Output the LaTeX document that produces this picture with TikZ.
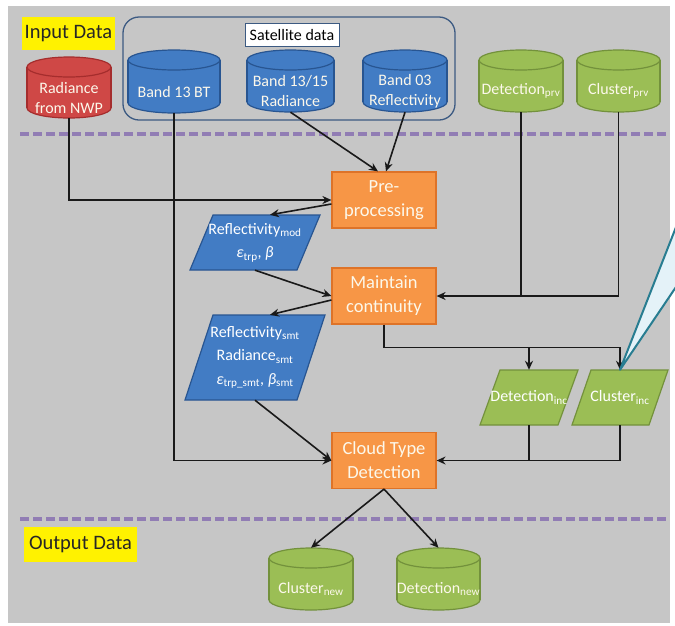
\documentclass[tikz,border=0pt]{standalone}
\usepackage{fontspec}
\setmainfont{Carlito}
\usetikzlibrary{arrows.meta}
\definecolor{bggrey}{RGB}{198,198,198}
\definecolor{cylred}{RGB}{207,72,70}
\definecolor{cylredd}{RGB}{165,45,45}
\definecolor{cylblue}{RGB}{66,124,196}
\definecolor{cylblued}{RGB}{40,85,145}
\definecolor{cylgreen}{RGB}{155,190,85}
\definecolor{cylgreend}{RGB}{115,145,60}
\definecolor{procor}{RGB}{247,150,70}
\definecolor{procord}{RGB}{222,115,40}
\definecolor{sepline}{RGB}{145,125,180}
\definecolor{framec}{RGB}{60,90,130}
\definecolor{txtw}{RGB}{252,248,235}
\definecolor{calloutc}{RGB}{40,125,145}
\definecolor{calloutf}{RGB}{228,242,248}
\definecolor{linec}{RGB}{25,25,25}
\newcommand\cyle{10}
\newcommand\drawcyl[8]{%
  \pgfmathsetmacro\cylcx{(#2+#3)/2}%
  \pgfmathsetmacro\cylrx{(#3-#2)/2}%
  \pgfmathsetmacro\cylyt{#4+\cyle}%
  \pgfmathsetmacro\cylyb{#5-\cyle}%
  \pgfmathsetmacro\cylmid{(#4+2*\cyle+#5)/2}%
  \pgfmathsetmacro\cylh{#5-#4-2*\cyle}%
  \pgfmathsetmacro\cylw{#3-#2}%
  \filldraw[fill=#6,draw=#7,cylline] (\cylcx,\cylyb) ellipse[x radius=\cylrx pt, y radius=\cyle pt];
  \fill[#6] (#2,\cylyt) rectangle (#3,\cylyb);
  \draw[#7,cylline] (#2,\cylyt) -- (#2,\cylyb) (#3,\cylyt) -- (#3,\cylyb);
  \filldraw[fill=#6,draw=#7,cylline] (\cylcx,\cylyt) ellipse[x radius=\cylrx pt, y radius=\cyle pt];
  \node[cyltext, minimum width=\cylw pt, minimum height=\cylh pt] (#1) at (\cylcx,\cylmid) {#8};
}
\newcommand\drawpgram[9]{%
  \pgfmathsetmacro\pgcx{(#2+#3)/2}%
  \pgfmathsetmacro\pgcy{(#4+#5)/2}%
  \pgfmathsetmacro\pgw{#3-#2}%
  \pgfmathsetmacro\pgh{#5-#4}%
  \filldraw[fill=#7, draw=#8, line width=1.2pt] (#2,#5) -- (#2+#6,#4) -- (#3,#4) -- (#3-#6,#5) -- cycle;
  \node[pgtext, minimum width=\pgw pt, minimum height=\pgh pt] (#1) at (\pgcx,\pgcy) {#9};
}
\begin{document}
\begin{tikzpicture}[x=1pt,y=-1pt,
  cyltext/.style={inner sep=0pt, align=center, text=txtw, font=\fontsize{16}{20}\selectfont},
  procbox/.style={draw=procord, fill=procor, line width=1.2pt, inner sep=0pt, minimum width=104pt, minimum height=56pt, align=center, text=txtw, font=\fontsize{18.5}{24}\selectfont},
  pgtext/.style={inner sep=0pt, align=center, text=white, font=\fontsize{16}{23.5}\selectfont},
  ylabel/.style={fill=yellow, inner sep=0pt, text=black!85, font=\fontsize{20.5}{24}\selectfont},
  satlabel/.style={draw=framec, fill=white, line width=0.8pt, inner sep=0pt, minimum width=94pt, minimum height=23pt, font=\fontsize{16}{18}\selectfont},
  satframe/.style={draw=framec, line width=1.3pt, rounded corners=16pt, minimum width=332pt, minimum height=103pt, inner sep=0pt},
  sepdash/.style={draw=sepline, line width=4.5pt, dash pattern=on 9pt off 4pt},
  arr/.style={draw=linec, line width=1.6pt, -{Stealth[length=9pt,width=8pt]}},
  ln/.style={draw=linec, line width=1.6pt},
  cylline/.style={line width=1.2pt}
]
\useasboundingbox (0,0) rectangle (675,625);
\fill[white] (0,0) rectangle (675,625);
\fill[bggrey] (8,6) rectangle (670,623);
% separators
\draw[sepdash] (20,134) -- (668,134);
\draw[sepdash] (20,519) -- (668,519);
% labels
\node[ylabel, minimum width=93pt, minimum height=33pt] (inlbl) at (68.5,33.5) {Input Data};
\node[ylabel, minimum width=113pt, minimum height=35pt] (outlbl) at (80.5,544.5) {Output Data};
% satellite group
\node[satframe] (satgrp) at (289,68.5) {};
\node[satlabel] (satlbl) at (292,35) {Satellite data};
% cylinders
\drawcyl{nwp}{27}{111}{57}{118}{cylred}{cylredd}{Radiance\\from NWP}
\drawcyl{bt13}{128}{220}{50}{113}{cylblue}{cylblued}{Band 13 BT}
\drawcyl{rad1315}{247}{334}{50}{112}{cylblue}{cylblued}{Band 13/15\\Radiance}
\drawcyl{refl03}{363}{447}{50}{112}{cylblue}{cylblued}{Band 03\\Reflectivity}
\drawcyl{detprv}{479}{563}{50}{112}{cylgreen}{cylgreend}{Detection\textsubscript{prv}}
\drawcyl{cluprv}{577}{660}{50}{112}{cylgreen}{cylgreend}{Cluster\textsubscript{prv}}
\drawcyl{clunew}{269}{353}{548}{610}{cylgreen}{cylgreend}{Cluster\textsubscript{new}}
\drawcyl{detnew}{397}{480}{548}{610}{cylgreen}{cylgreend}{Detection\textsubscript{new}}
% process boxes
\node[procbox] (pre) at (384,200) {Pre-\\processing};
\node[procbox] (mc) at (384,296) {Maintain\\continuity};
\node[procbox] (ctd) at (384,460.5) {Cloud Type\\Detection};
% parallelograms
\drawpgram{rmod}{190}{320}{215}{270}{23}{cylblue}{cylblued}{Reflectivity\textsubscript{mod}\\{\itshape ε}\textsubscript{trp}, {\itshape β}}
\drawpgram{rsmt}{185}{325}{315}{400}{28}{cylblue}{cylblued}{Reflectivity\textsubscript{smt}\\Radiance\textsubscript{smt}\\{\itshape ε}\textsubscript{trp\_smt}, {\itshape β}\textsubscript{smt}}
\drawpgram{dinc}{480}{578}{370}{425}{20}{cylgreen}{cylgreend}{Detection\textsubscript{inc}}
\drawpgram{cinc}{572}{668}{370}{425}{19}{cylgreen}{cylgreend}{Cluster\textsubscript{inc}}
% connectors
\draw[arr] (nwp.south) |- (pre.west);
\draw[arr] (bt13.south) |- (ctd.west);
\draw[arr] (rad1315.south) -- ([xshift=-6pt]pre.north);
\draw[arr] (refl03.south) -- ([xshift=2pt]pre.north);
\draw[arr] ([yshift=-4pt]pre.west) -- ([xshift=15pt]rmod.north);
\draw[arr] (rmod.south) -- (mc.west);
\draw[arr] ([yshift=-4pt]mc.west) -- ([xshift=15pt]rsmt.north);
\draw[arr] (rsmt.south) -- (ctd.west);
\draw[arr] (cluprv.south) |- (mc.east);
\draw[ln] (detprv.south) -- (detprv.south |- mc.east);
\path (mc.south) ++(0,23) coordinate (split);
\draw[ln] (mc.south) -- (split);
\draw[arr] (split) -| (cinc.north);
\draw[arr] (split -| dinc.north) -- (dinc.north);
\draw[arr] (cinc.south) |- (ctd.east);
\draw[ln] (dinc.south) -- (dinc.south |- ctd.east);
\draw[arr] (ctd.south) -- ([yshift=20pt]clunew.north);
\draw[arr] (ctd.south) -- ([yshift=20pt]detnew.north);
% callout pointer
\filldraw[fill=calloutf, draw=calloutc, line width=2pt, line join=round] (cinc.north) -- (678,222) -- (678,284) -- cycle;
\end{tikzpicture}
\end{document}
